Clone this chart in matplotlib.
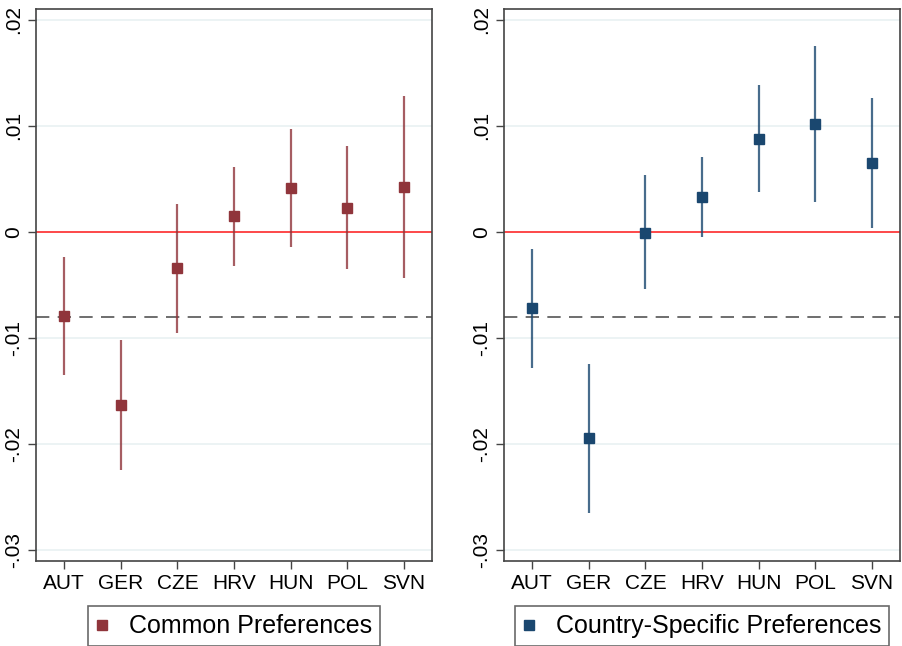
import numpy as np
import matplotlib
matplotlib.use('Agg')
import matplotlib.pyplot as plt
from matplotlib.lines import Line2D

plt.rcParams['font.family'] = ['Liberation Sans', 'DejaVu Sans']

countries = ['AUT', 'GER', 'CZE', 'HRV', 'HUN', 'POL', 'SVN']

# common preferences: point estimate and 95% CI
common_est = [-0.0079, -0.0163, -0.0034, 0.0015, 0.0041, 0.0023, 0.0042]
common_lo = [-0.0135, -0.0224, -0.0095, -0.0032, -0.0014, -0.0035, -0.0043]
common_hi = [-0.0024, -0.0102, 0.0026, 0.0061, 0.0097, 0.0081, 0.0128]

# country-specific preferences
spec_est = [-0.0072, -0.0194, -0.0001, 0.0033, 0.0088, 0.0102, 0.0065]
spec_lo = [-0.0128, -0.0265, -0.0054, -0.0005, 0.0038, 0.0028, 0.0004]
spec_hi = [-0.0016, -0.0124, 0.0054, 0.0071, 0.0138, 0.0175, 0.0126]

ref_line = -0.008
yticks = [0.02, 0.01, 0.0, -0.01, -0.02, -0.03]
yticklabels = ['.02', '.01', '0', '-.01', '-.02', '-.03']

cranberry = '#90353B'
navy = '#1A476F'

fig = plt.figure(figsize=(9.03, 6.46), dpi=100)
ax1 = fig.add_axes([0.0399, 0.1311, 0.4385, 0.855])
ax2 = fig.add_axes([0.5581, 0.1311, 0.4385, 0.855])

panels = [
    (ax1, common_est, common_lo, common_hi, cranberry, 'Common Preferences'),
    (ax2, spec_est, spec_lo, spec_hi, navy, 'Country-Specific Preferences'),
]

x = np.arange(1, len(countries) + 1)
for ax, est, lo, hi, col, lab in panels:
    for yv in yticks:
        ax.axhline(yv, color='#EAF2F3', lw=1.3, zorder=0)
    ax.axhline(0, color='#FF3B3B', lw=1.3, zorder=1)
    ax.axhline(ref_line, color='#555555', lw=1.2, ls=(0, (8, 5)), zorder=1)
    ax.vlines(x, lo, hi, color=col, lw=1.6, alpha=0.8, zorder=2)
    ax.plot(x, est, 's', color=col, ms=7.5, zorder=3)

    ax.set_xlim(0.5, 7.5)
    ax.set_ylim(-0.03104, 0.02101)
    ax.set_xticks(x)
    ax.set_xticklabels(countries, fontsize=15)
    ax.set_yticks(yticks)
    ax.set_yticklabels(yticklabels, fontsize=15, rotation=90, va='center')
    ax.tick_params(axis='both', length=6, width=1, color='#444444', pad=3)
    for s in ax.spines.values():
        s.set_color('#444444')
        s.set_linewidth(1.2)

    handle = Line2D([], [], ls='none', marker='s', color=col, ms=7.5)
    leg = ax.legend([handle], [lab], loc='upper center', bbox_to_anchor=(0.5, -0.0815),
                    fontsize=18, frameon=True, fancybox=False, handlelength=0.5,
                    handletextpad=0.8, borderpad=0.32, borderaxespad=0)
    leg.get_frame().set_edgecolor('#444444')
    leg.get_frame().set_linewidth(1.2)

fig.savefig('out.png', dpi=100)
